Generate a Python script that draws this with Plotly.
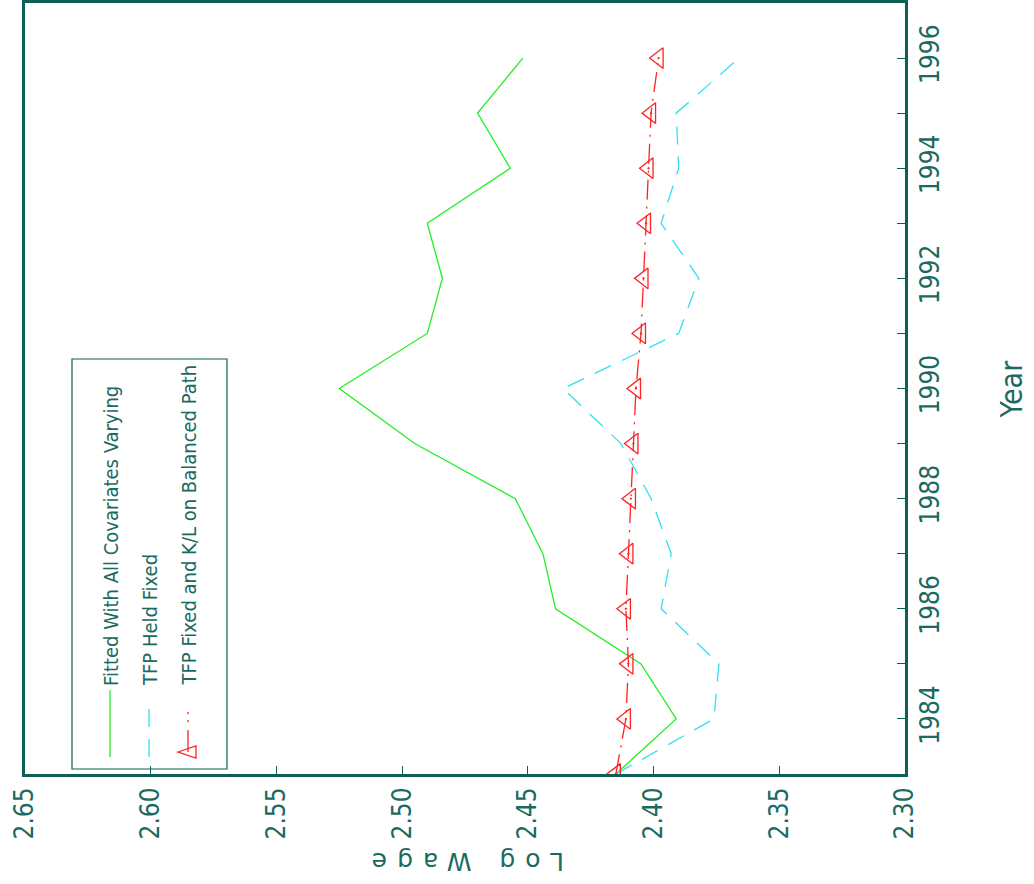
import plotly.graph_objects as go

years = list(range(1983, 1997))
fitted_all = [2.415, 2.391, 2.405, 2.439, 2.444, 2.455, 2.495, 2.525, 2.490, 2.484, 2.490, 2.457, 2.470, 2.452]
tfp_fixed = [2.415, 2.376, 2.374, 2.397, 2.393, 2.401, 2.413, 2.436, 2.390, 2.382, 2.397, 2.390, 2.391, 2.366]
tfp_kl_fixed = [2.415, 2.411, 2.410, 2.411, 2.410, 2.409, 2.408, 2.407, 2.405, 2.404, 2.403, 2.402, 2.401, 2.398]

series_names = ["Fitted With All Covariates Varying", "TFP Held Fixed",
                "TFP Fixed and K/L on Balanced Path"]
wage_ticks = [2.30, 2.35, 2.40, 2.45, 2.50, 2.55, 2.60, 2.65]
year_ticks = [1984, 1986, 1988, 1990, 1992, 1994, 1996]

TEAL = "#0E5F55"
TXT = "#1A6A5F"
NARROW = "Liberation Sans Narrow, DejaVu Sans Condensed, Arial Narrow, sans-serif"
GREEN = "#22EE22"
CYAN = "#33E0EE"
RED = "#FF2222"

L, R, T, B = 25, 905, 3, 774
W, H = 1034, 884


def fx(px):
    return (px - L) / (R - L)


def fy(py):
    return (B - py) / (B - T)


fig = go.Figure()
fig.add_trace(go.Scatter(x=fitted_all, y=years, mode="lines", name=series_names[0],
                         line=dict(color=GREEN, width=1.3), showlegend=False))
fig.add_trace(go.Scatter(x=tfp_fixed, y=years, mode="lines", name=series_names[1],
                         line=dict(color=CYAN, width=1.3, dash="18px,12px"), showlegend=False))
fig.add_trace(go.Scatter(x=tfp_kl_fixed, y=years, mode="lines+markers", name=series_names[2],
                         line=dict(color=RED, width=1.3, dash="20px,7px,2px,7px"),
                         marker=dict(symbol="triangle-left-open-dot", size=18,
                                     color=RED, line=dict(color=RED, width=1.3)),
                         showlegend=False))

fig.update_xaxes(range=[2.65, 2.30], tickvals=wage_ticks,
                 ticktext=[f"{v:.2f}" for v in wage_ticks], tickangle=-90,
                 ticks="inside", ticklen=8, tickwidth=1.2, tickcolor=TEAL,
                 showline=True, linewidth=3, linecolor=TEAL, mirror=True,
                 showgrid=False, zeroline=False, automargin=False,
                 tickfont=dict(family=NARROW, size=26, color=TXT))
fig.update_yaxes(range=[1983, 1997], side="right", tickvals=year_ticks,
                 ticktext=[str(y) for y in year_ticks], tickangle=-90,
                 ticks="inside", ticklen=8, tickwidth=1.2, tickcolor=TEAL,
                 minor=dict(dtick=1, tick0=1983, ticks="inside", ticklen=8,
                            tickwidth=1.2, tickcolor=TEAL),
                 showline=True, linewidth=3, linecolor=TEAL, mirror=True,
                 showgrid=False, zeroline=False, automargin=False,
                 tickfont=dict(family=NARROW, size=26, color=TXT))

shapes = []
# legend box
shapes.append(dict(type="rect", xref="paper", yref="paper", x0=fx(72), x1=fx(227),
                   y0=fy(769), y1=fy(359), line=dict(color=TEAL, width=1.2),
                   fillcolor="rgba(0,0,0,0)", layer="above"))
# legend samples
shapes.append(dict(type="line", xref="paper", yref="paper", x0=fx(110), x1=fx(110),
                   y0=fy(757), y1=fy(690), line=dict(color=GREEN, width=1.3)))
shapes.append(dict(type="line", xref="paper", yref="paper", x0=fx(149), x1=fx(149),
                   y0=fy(757), y1=fy(698), line=dict(color=CYAN, width=1.3, dash="18px,12px")))
shapes.append(dict(type="line", xref="paper", yref="paper", x0=fx(188), x1=fx(188),
                   y0=fy(752), y1=fy(710), line=dict(color=RED, width=1.3,
                                                     dash="22px,8px,2px,6px,2px,40px")))
tri = "M {:.5f},{:.5f} L {:.5f},{:.5f} L {:.5f},{:.5f} Z".format(
    fx(178), fy(752), fx(196), fy(746), fx(196), fy(758))
shapes.append(dict(type="path", xref="paper", yref="paper", path=tri,
                   line=dict(color=RED, width=1.3)))

annotations = []
for name, cx in zip(series_names, [111, 150, 188]):
    annotations.append(dict(text=name, xref="paper", yref="paper", x=fx(cx), y=fy(688),
                            xanchor="center", yanchor="bottom", textangle=-90,
                            showarrow=False,
                            font=dict(family=NARROW, size=20, color=TXT)))
annotations.append(dict(text="Year", xref="paper", yref="paper", x=fx(1011), y=0.5,
                        xanchor="center", yanchor="middle", textangle=-90, showarrow=False,
                        font=dict(family=NARROW, size=30, color=TXT)))
annotations.append(dict(text='<span style="letter-spacing:10px">Log Wage</span>',
                        xref="paper", yref="paper", x=fx(463), y=fy(862),
                        xanchor="center", yanchor="middle", textangle=180, showarrow=False,
                        font=dict(family="DejaVu Sans, sans-serif", size=25, color=TXT)))

fig.update_layout(width=W, height=H, margin=dict(l=L, r=W - R, t=T, b=H - B),
                  paper_bgcolor="white", plot_bgcolor="white",
                  shapes=shapes, annotations=annotations, showlegend=False)

fig.write_html("out.html", config={"displayModeBar": False},
               post_script="document.body.style.margin='0';document.body.style.overflow='hidden';")
